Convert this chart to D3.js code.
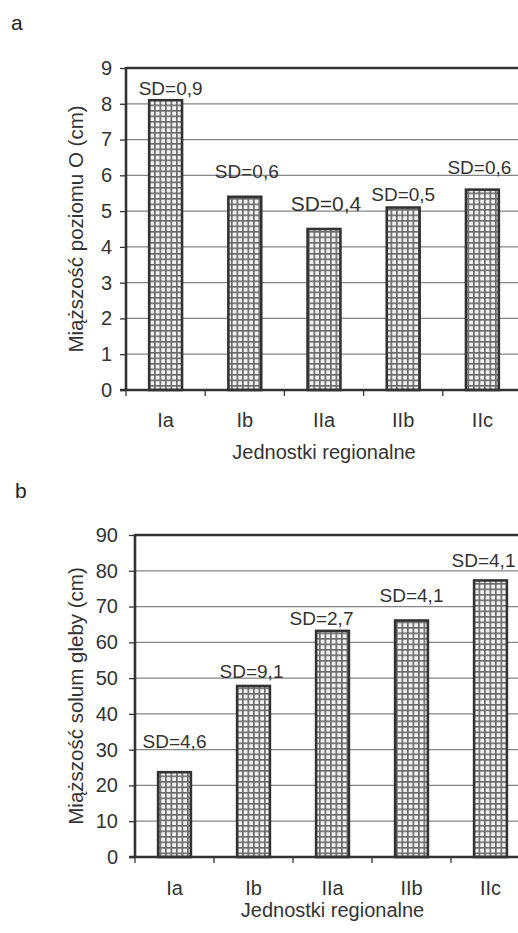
<!DOCTYPE html>
<html><head><meta charset="utf-8">
<script src="https://cdn.jsdelivr.net/npm/d3@7"></script>
<style>
html,body{margin:0;padding:0;background:#fff;}
svg{display:block;font-family:"Liberation Sans",Arial,sans-serif;}
</style></head>
<body><svg id="c" width="518" height="933"></svg>
<script>
// ---- data ----
const categories = ["Ia","Ib","IIa","IIb","IIc"];
const valuesA = [8.1, 5.4, 4.5, 5.1, 5.6];
const sdA = ["SD=0,9","SD=0,6","SD=0,4","SD=0,5","SD=0,6"];
const ticksA = [0,1,2,3,4,5,6,7,8,9];
const valuesB = [23.7, 47.8, 63.2, 66.1, 77.3];
const sdB = ["SD=4,6","SD=9,1","SD=2,7","SD=4,1","SD=4,1"];
const ticksB = [0,10,20,30,40,50,60,70,80,90];
const panelLabels = ["a","b"];
const yTitleA = "Miąższość poziomu O (cm)";
const yTitleB = "Miąższość solum gleby (cm)";
const xTitle = "Jednostki regionalne";

// ---- layout (positions, not data) ----
const layoutA = {left:126,right:522,top:68,bottom:390,panelX:11,panelY:30,
  yTitleX:83,xTitleY:459,catY:427,tickPad:8,
  sdDx:[5,2,2,0,-3], sdDy:[-5,-19,-18,-7,-16], sdSize:[19,19,21,19,19]};
const layoutB = {left:135,right:530,top:535,bottom:857,panelX:15,panelY:498,
  yTitleX:83,xTitleY:917,catY:895,tickPad:11,
  sdDx:[0,-2,-11,0,-7], sdDy:[-24,-8,-6,-19,-13], sdSize:[19,19,19,19,19]};

const svg = d3.select("#c");
const ink = "#333";

// hatch pattern
const defs = svg.append("defs");
const pat = defs.append("pattern").attr("id","grid").attr("patternUnits","userSpaceOnUse")
  .attr("width",5.5).attr("height",5.5);
pat.append("rect").attr("width",5.5).attr("height",5.5).attr("fill","#f2f2f2");
pat.append("path").attr("d","M0,0.8H5.5M0.8,0V5.5").attr("stroke","#6a6a6a").attr("stroke-width",1.7);

function drawPanel(L, values, sds, ticks, yTitle, panelLabel){
  const g = svg.append("g");
  const x = d3.scaleBand().domain(categories).range([L.left, L.right]).padding(0);
  const y = d3.scaleLinear().domain([ticks[0], ticks[ticks.length-1]]).range([L.bottom, L.top]);
  const bw = x.bandwidth()*0.415;

  // gridlines
  g.selectAll("line.grid").data(ticks.slice(1,-1)).join("line")
    .attr("x1",L.left).attr("x2",L.right).attr("y1",d=>y(d)).attr("y2",d=>y(d))
    .attr("stroke","#858585").attr("stroke-width",1.3);
  // top border
  g.append("line").attr("x1",L.left).attr("x2",L.right).attr("y1",y(ticks[ticks.length-1])).attr("y2",y(ticks[ticks.length-1]))
    .attr("stroke",ink).attr("stroke-width",2.4);

  // y axis
  const ya = d3.axisLeft(y).tickValues(ticks).tickSize(6).tickPadding(L.tickPad).tickFormat(d=>d);
  const yg = g.append("g").attr("transform",`translate(${L.left},0)`).call(ya);
  yg.select(".domain").remove();
  yg.selectAll(".tick line").attr("stroke",ink).attr("stroke-width",1.3);
  yg.selectAll(".tick text").attr("fill",ink).attr("font-size",20).attr("font-family","Liberation Sans, Arial, sans-serif");

  // bars
  g.selectAll("rect.bar").data(values).join("rect")
    .attr("x",(d,i)=>x(categories[i])+x.bandwidth()/2-bw/2)
    .attr("width",bw)
    .attr("y",d=>y(d)).attr("height",d=>y(0)-y(d))
    .attr("fill","url(#grid)").attr("stroke",ink).attr("stroke-width",2.6);

  // axes lines
  g.append("line").attr("x1",L.left).attr("x2",L.left).attr("y1",L.top-1).attr("y2",L.bottom)
    .attr("stroke",ink).attr("stroke-width",2.6);
  g.append("line").attr("x1",L.left-6).attr("x2",L.right).attr("y1",L.bottom).attr("y2",L.bottom)
    .attr("stroke",ink).attr("stroke-width",2.6);
  // x ticks at band boundaries
  g.selectAll("line.xt").data(categories).join("line")
    .attr("x1",d=>x(d)).attr("x2",d=>x(d)).attr("y1",L.bottom).attr("y2",L.bottom+6)
    .attr("stroke",ink).attr("stroke-width",1.3);

  // category labels
  g.selectAll("text.cat").data(categories).join("text")
    .attr("x",d=>x(d)+x.bandwidth()/2).attr("y",L.catY)
    .attr("text-anchor","middle").attr("font-size",20).attr("fill",ink).text(d=>d);

  // SD labels
  g.selectAll("text.sd").data(values).join("text")
    .attr("x",(d,i)=>x(categories[i])+x.bandwidth()/2+L.sdDx[i])
    .attr("y",(d,i)=>y(d)+L.sdDy[i])
    .attr("text-anchor","middle").attr("font-size",(d,i)=>L.sdSize[i]).attr("fill",ink)
    .text((d,i)=>sds[i]);

  // titles
  g.append("text").attr("x",(L.left+L.right)/2).attr("y",L.xTitleY).attr("text-anchor","middle")
    .attr("font-size",20).attr("fill",ink).text(xTitle);
  g.append("text").attr("transform",`translate(${L.yTitleX},${(L.top+L.bottom)/2}) rotate(-90)`)
    .attr("text-anchor","middle").attr("font-size",20.5).attr("fill",ink).text(yTitle);
  g.append("text").attr("x",L.panelX).attr("y",L.panelY).attr("font-size",21).attr("fill","#222").text(panelLabel);
}

drawPanel(layoutA, valuesA, sdA, ticksA, yTitleA, panelLabels[0]);
drawPanel(layoutB, valuesB, sdB, ticksB, yTitleB, panelLabels[1]);
</script></body></html>
